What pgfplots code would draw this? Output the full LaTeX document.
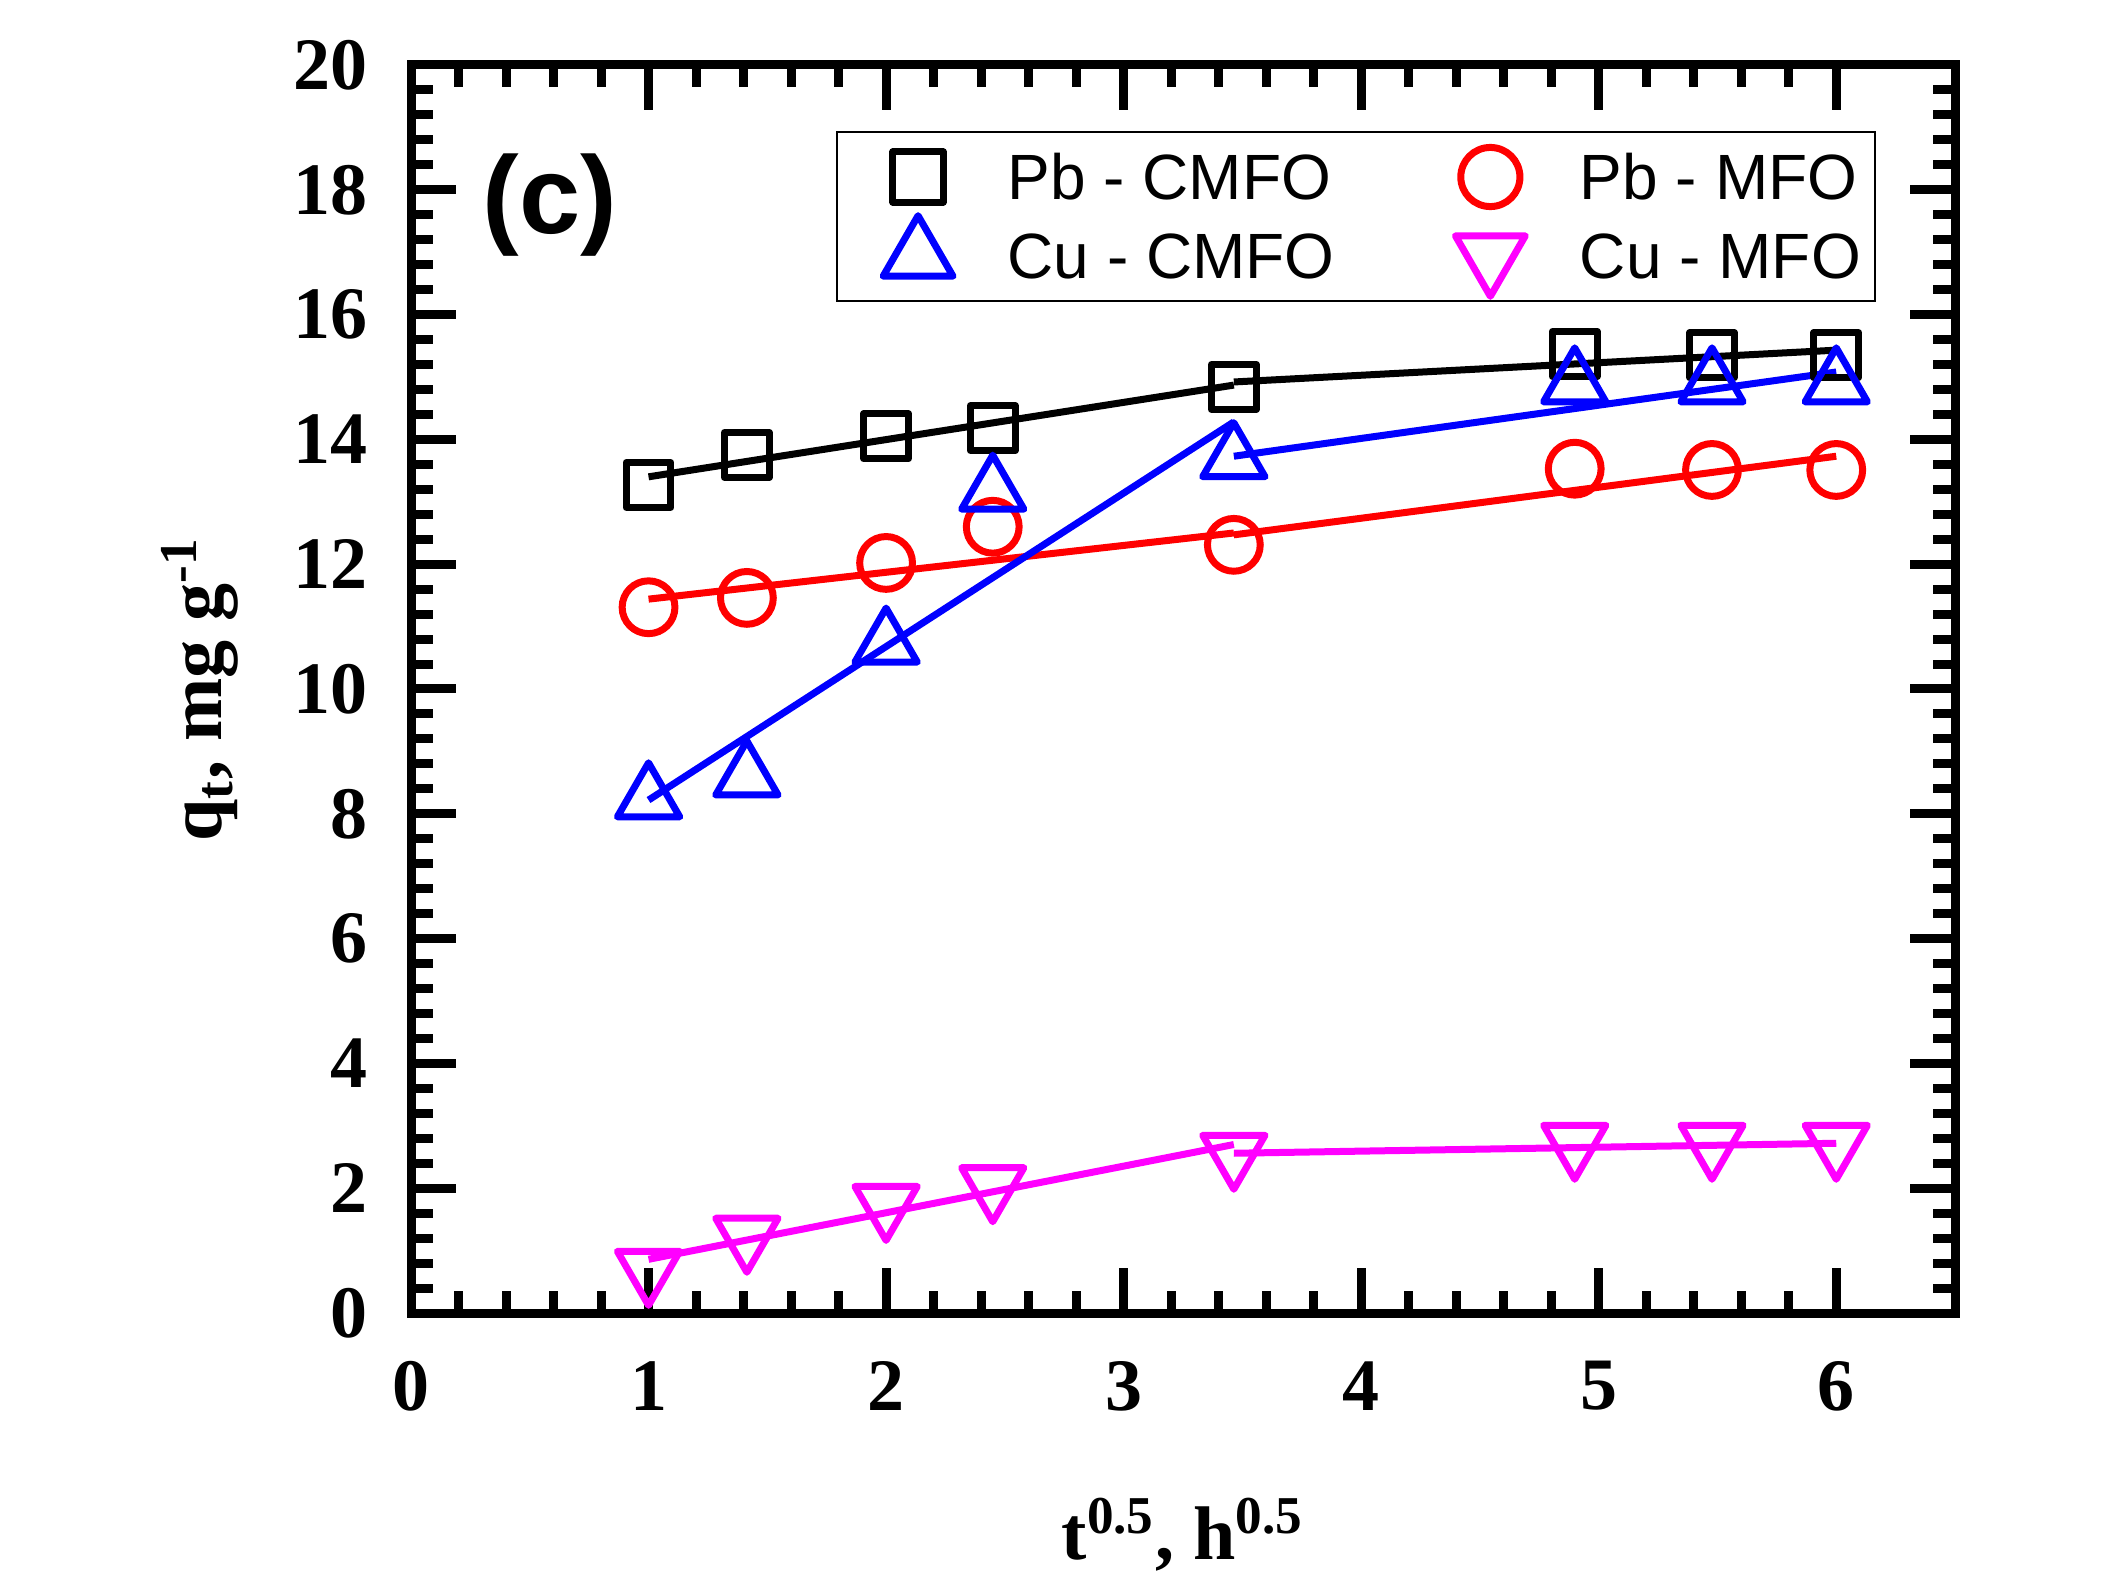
\documentclass[border=0pt]{standalone}
\usepackage{fontspec}
\setmainfont{Liberation Serif}
\newfontfamily\arial{Liberation Sans}
\usepackage{pgfplots}
\pgfplotsset{compat=1.18}
\definecolor{mag}{RGB}{255,0,255}
\pgfplotsset{mymark/.style={only marks, line width=1.75pt,
  legend image code/.code={\draw[##1,overlay,every mark/.append style={scale=1.12}] plot coordinates {(0pt,0pt)}; \path[draw=none,fill=none] (-18.75pt,-0.5pt) rectangle (10pt,0.5pt);}}}
\begin{document}
\begin{tikzpicture}
\useasboundingbox (-102.75pt,-66.75pt) rectangle (423.25pt,328.25pt);
\begin{axis}[
  scale only axis, width=386pt, height=312pt,
  xmin=0, xmax=6.5, ymin=0, ymax=20,
  xtick={0,1,2,3,4,5,6}, ytick={0,2,...,20},
  minor x tick num=4, minor y tick num=4,
  tick align=inside,
  major tick length=11.25pt, minor tick length=5.5pt,
  axis line style={line width=2.25pt},
  tick style={line width=2.25pt, black},
  tick label style={font=\fontsize{18.5}{22}\selectfont\bfseries},
  /pgf/number format/assume math mode=true,
  xticklabel style={yshift=-8.6pt},
  yticklabel style={xshift=-7.3pt},
  xlabel={t\textsuperscript{0.5}, h\textsuperscript{0.5}},
  ylabel={q\textsubscript{t}, mg g\textsuperscript{-1}},
  every axis x label/.style={at={(axis description cs:0.5,0)}, anchor=base, yshift=-61.5pt, font=\fontsize{19}{23}\selectfont\bfseries},
  every axis y label/.style={at={(axis description cs:0,0.5)}, xshift=-47.25pt, rotate=90, anchor=base, font=\fontsize{19}{23}\selectfont\bfseries},
  legend columns=2,
  legend cell align=left,
  legend style={at={(rel axis cs:0.2753,0.9471)}, anchor=north west, draw=black, line width=0.5pt,
    inner xsep=1.5pt, inner ysep=1.375pt, font=\arial\fontsize{16}{19}\selectfont,
    nodes={inner xsep=2pt, inner ysep=1pt, text height=14.375pt, text depth=3.375pt},
    /tikz/column 1/.append style={column sep=10.4pt},
    /tikz/column 2/.append style={column sep=18.15pt},
    /tikz/column 3/.append style={column sep=10.4pt}},
]
\addplot[mymark, black, mark=square, mark size=5.6pt, mark options={solid, line join=round}]
  coordinates {(1,13.27) (1.414,13.75) (2,14.05) (2.449,14.18) (3.464,14.84) (4.899,15.37) (5.477,15.35) (6,15.35)};
\addlegendentry{Pb - CMFO}
\addplot[mymark, red, mark=o, mark size=6.6pt, mark options={solid}]
  coordinates {(1,11.31) (1.414,11.46) (2,12.02) (2.449,12.60) (3.464,12.31) (4.899,13.53) (5.477,13.51) (6,13.51)};
\addlegendentry{Pb - MFO}
\addplot[mymark, blue, mark=triangle, mark size=9pt, mark options={solid, line join=round}]
  coordinates {(1,8.24) (1.414,8.59) (2,10.72) (2.449,13.17) (3.464,13.69) (4.899,14.89) (5.477,14.89) (6,14.89)};
\addlegendentry{Cu - CMFO}
\addplot[mymark, mag, mark=triangle, mark size=9pt, mark options={solid, line join=round, rotate=180}]
  coordinates {(1,0.70) (1.414,1.23) (2,1.74) (2.449,2.04) (3.464,2.56) (4.899,2.72) (5.477,2.72) (6,2.72)};
\addlegendentry{Cu - MFO}
\addplot[forget plot, black, line width=1.75pt] coordinates {(1,13.40) (3.464,14.87)};
\addplot[forget plot, black, line width=1.75pt] coordinates {(3.464,14.92) (6,15.43)};
\addplot[forget plot, red, line width=1.75pt] coordinates {(1,11.44) (3.464,12.50)};
\addplot[forget plot, red, line width=1.75pt] coordinates {(3.464,12.47) (6,13.73)};
\addplot[forget plot, blue, line width=1.75pt] coordinates {(1,8.22) (3.464,14.28)};
\addplot[forget plot, blue, line width=1.75pt] coordinates {(3.464,13.73) (6,15.08)};
\addplot[forget plot, mag, line width=1.75pt] coordinates {(1,0.86) (3.464,2.70)};
\addplot[forget plot, mag, line width=1.75pt] coordinates {(3.464,2.56) (6,2.72)};
\node[anchor=base, font=\arial\bfseries\fontsize{27.5}{30}\selectfont] at (axis cs:0.585,17.3) {(c)};
\end{axis}
\end{tikzpicture}
\end{document}
